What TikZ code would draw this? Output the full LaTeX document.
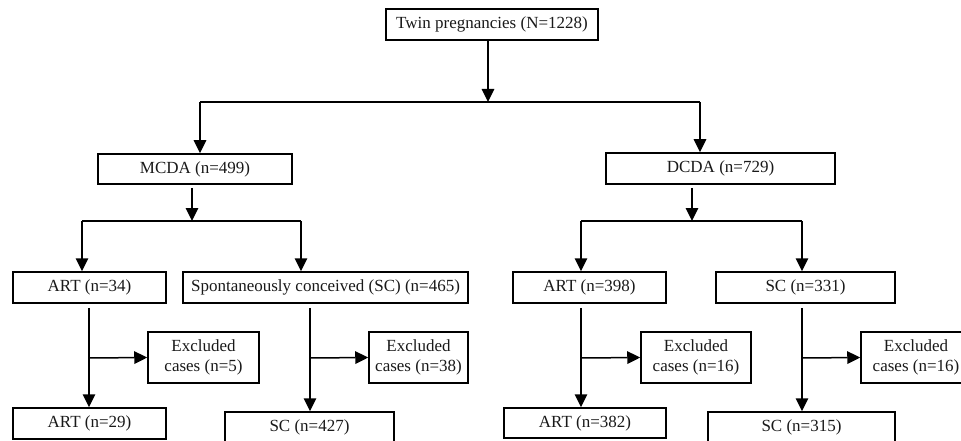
\documentclass[tikz,border=0pt]{standalone}
\usepackage{fontspec}
\setmainfont{Liberation Serif}
\usetikzlibrary{arrows.meta}
\begin{document}
\begin{tikzpicture}[x=1pt,y=-1pt,
  box/.style={draw, line width=1.5pt, inner sep=0pt, align=center,
    font=\fontsize{17pt}{20.5pt}\selectfont, text=black!90},
  conn/.style={line width=1.5pt},
  arr/.style={conn, -{Triangle[width=12.5pt,length=13pt]}}]
\useasboundingbox (0,0) rectangle (961,441);
\clip (0,0) rectangle (961,441);
% boxes
\node[box, minimum width=212pt, minimum height=31pt] (top) at (492,24.5) {Twin pregnancies (N=1228)};
\node[box, minimum width=194pt, minimum height=30pt] (mcda) at (195,169) {MCDA (n=499)};
\node[box, minimum width=229pt, minimum height=31pt] (dcda) at (720.5,168.5) {DCDA (n=729)};
\node[box, minimum width=153pt, minimum height=31pt] (art34) at (89.5,287.5) {ART (n=34)};
\node[box, minimum width=285pt, minimum height=31pt] (sc465) at (325.5,287.5) {Spontaneously conceived (SC) (n=465)};
\node[box, minimum width=153pt, minimum height=31pt] (art398) at (589.5,287.5) {ART (n=398)};
\node[box, minimum width=179pt, minimum height=31pt] (sc331) at (805.5,287.5) {SC (n=331)};
\node[box, minimum width=111pt, minimum height=51pt] (ex5) at (203.5,357.5) {Excluded\\cases (n=5)};
\node[box, minimum width=99pt, minimum height=51pt] (ex38) at (418.5,357.5) {Excluded\\cases (n=38)};
\node[box, minimum width=110pt, minimum height=51pt] (ex16a) at (696,357.5) {Excluded\\cases (n=16)};
\node[box, minimum width=110pt, minimum height=51pt] (ex16b) at (916,357.5) {Excluded\\cases (n=16)};
\node[box, minimum width=153pt, minimum height=31pt] (art29) at (89.5,423.5) {ART (n=29)};
\node[box, minimum width=169pt, minimum height=31pt] (sc427) at (309.5,427.5) {SC (n=427)};
\node[box, minimum width=162pt, minimum height=30pt] (art382) at (585,423) {ART (n=382)};
\node[box, minimum width=187pt, minimum height=31pt] (sc315) at (801.5,427.5) {SC (n=315)};
% junction coordinates
\coordinate (j0) at (488,102);
\coordinate (j0l) at (200,102);
\coordinate (j0r) at (700,102);
\coordinate (j1) at (192,221);
\coordinate (j1l) at (82,221);
\coordinate (j1r) at (301,221);
\coordinate (j2) at (692,221);
\coordinate (j2l) at (581,221);
\coordinate (j2r) at (802,221);
\coordinate (k1) at (89,358);
\coordinate (k2) at (310,358);
\coordinate (k3) at (581,358);
\coordinate (k4) at (802,358);
% level 1
\draw[arr] (top.south -| j0) -- (j0);
\draw[conn] (j0l) -- (j0r);
\draw[arr] (j0l) -- (j0l |- mcda.north);
\draw[arr] (j0r) -- (j0r |- dcda.north);
% level 2
\draw[arr] ([yshift=-3pt]mcda.south -| j1) -- (j1);
\draw[conn] (j1l) -- (j1r);
\draw[arr] (j1l) -- (j1l |- art34.north);
\draw[arr] (j1r) -- (j1r |- sc465.north);
\draw[arr] ([yshift=-3pt]dcda.south -| j2) -- (j2);
\draw[conn] (j2l) -- (j2r);
\draw[arr] (j2l) -- (j2l |- art398.north);
\draw[arr] (j2r) -- (j2r |- sc331.north);
% level 3
\draw[arr] ([yshift=-4pt]art34.south -| k1) -- (k1 |- art29.north);
\draw[arr] (k1) -- (ex5.west);
\draw[arr] ([yshift=-4pt]sc465.south -| k2) -- (k2 |- sc427.north);
\draw[arr] (k2) -- (ex38.west);
\draw[arr] ([yshift=-4pt]art398.south -| k3) -- (k3 |- art382.north);
\draw[arr] (k3) -- (ex16a.west);
\draw[arr] ([yshift=-4pt]sc331.south -| k4) -- (k4 |- sc315.north);
\draw[arr] (k4) -- (ex16b.west);
\end{tikzpicture}
\end{document}
